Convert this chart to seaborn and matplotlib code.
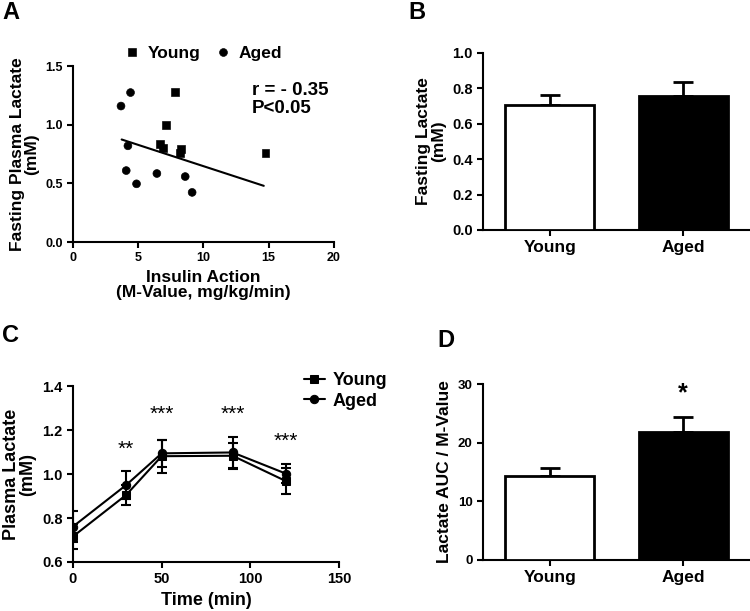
import numpy as np
import pandas as pd
import seaborn as sns
import matplotlib.pyplot as plt

# panel A: fasting lactate vs insulin action
young_m = [7.82, 7.11, 6.66, 6.93, 8.30, 8.20, 14.75]
young_lac = [1.280, 0.995, 0.834, 0.798, 0.792, 0.758, 0.756]
aged_m = [3.68, 4.41, 4.21, 4.08, 4.87, 6.43, 8.60, 9.13]
aged_lac = [1.159, 1.274, 0.820, 0.609, 0.496, 0.584, 0.558, 0.423]
fit_x = [3.73, 14.62]
fit_y = [0.874, 0.479]

# panel B: fasting lactate
groups = ["Young", "Aged"]
fasting_mean = [0.708, 0.755]
fasting_sem = [0.056, 0.081]

# panel C: plasma lactate over time
time = [0, 30, 50, 90, 120]
young_time = [0.716, 0.905, 1.081, 1.083, 0.968]
young_err = [0.055, 0.045, 0.075, 0.060, 0.060]
aged_time = [0.761, 0.950, 1.094, 1.098, 1.002]
aged_err = [0.070, 0.063, 0.060, 0.070, 0.045]
star_t = [30, 50, 90, 120]
star_txt = ["**", "***", "***", "***"]
star_y = [1.113, 1.272, 1.272, 1.150]

# panel D: lactate AUC / M-value
auc_mean = [14.4, 21.9]
auc_sem = [1.25, 2.4]

sns.set_style("ticks")
plt.rcParams['font.family'] = ['Liberation Sans', 'DejaVu Sans']
plt.rcParams['font.weight'] = 'bold'
plt.rcParams['axes.labelweight'] = 'bold'
plt.rcParams['axes.linewidth'] = 1.5
for k in ['text.color', 'axes.labelcolor', 'xtick.color', 'ytick.color', 'axes.edgecolor']:
    plt.rcParams[k] = 'black'

fig = plt.figure(figsize=(7.5, 6.11), dpi=100)
axA = fig.add_axes([0.0973, 0.6039, 0.348, 0.288])
axB = fig.add_axes([0.644, 0.6236, 0.356, 0.2897])
axC = fig.add_axes([0.0973, 0.0802, 0.3547, 0.288])
axD = fig.add_axes([0.644, 0.0835, 0.356, 0.288])

def style(ax, size):
    sns.despine(ax=ax)
    ax.tick_params(direction="out", length=4, width=1.5, labelsize=size)
    for lab in ax.get_xticklabels() + ax.get_yticklabels():
        lab.set_fontweight("bold")

# ---- A
dfA = pd.DataFrame({
    "m": young_m + aged_m,
    "lac": young_lac + aged_lac,
    "group": ["Young"] * len(young_m) + ["Aged"] * len(aged_m),
})
sns.scatterplot(data=dfA, x="m", y="lac", style="group",
                markers={"Young": "s", "Aged": "o"}, color="black",
                edgecolor="black", s=32, ax=axA)
axA.plot(fit_x, fit_y, color="black", lw=1.5)
axA.set_xlim(0, 20)
axA.set_ylim(0, 1.5)
axA.set_xticks([0, 5, 10, 15, 20])
axA.set_yticks([0, 0.5, 1.0, 1.5])
axA.set_yticklabels(["0.0", "0.5", "1.0", "1.5"])
axA.set_xlabel("Insulin Action\n(M-Value, mg/kg/min)", fontsize=12.5, linespacing=1.0)
axA.set_ylabel("Fasting Plasma Lactate\n(mM)", fontsize=12.5, linespacing=1.0)
axA.text(0.685, 0.81, "r = - 0.35\nP<0.05", transform=axA.transAxes,
         fontsize=13.5, fontweight="bold", ha="left", va="center", linespacing=1.1)
sns.move_legend(axA, "lower center", bbox_to_anchor=(0.5, 0.98), ncol=2,
                frameon=False, title=None, fontsize=12.5, handlelength=0.8,
                handletextpad=0.5, columnspacing=0.9, borderaxespad=0.1)
style(axA, 9)

# ---- bar helper
def bars(ax, means, sems):
    sns.barplot(x=groups, y=means, hue=groups, palette=["white", "black"],
                edgecolor="black", linewidth=2, width=0.67, legend=False,
                ax=ax, zorder=3)
    ax.errorbar(range(2), means, yerr=[[0, 0], sems], fmt="none",
                ecolor="black", elinewidth=2, capsize=7, capthick=2, zorder=2)
    ax.set_xlim(-0.5, 1.5)

# ---- B
bars(axB, fasting_mean, fasting_sem)
axB.set_ylim(0, 1.0)
axB.set_yticks(np.arange(0, 1.01, 0.2))
axB.set_yticklabels(["0.0", "0.2", "0.4", "0.6", "0.8", "1.0"])
axB.set_ylabel("Fasting Lactate\n(mM)", fontsize=12.5, linespacing=1.0)
style(axB, 10.5)
axB.tick_params(axis="x", labelsize=12.5)

# ---- C
dfC = pd.DataFrame({
    "time": time + time,
    "lac": young_time + aged_time,
    "group": ["Young"] * len(time) + ["Aged"] * len(time),
})
sns.lineplot(data=dfC, x="time", y="lac", style="group",
             markers={"Young": "s", "Aged": "o"}, dashes=False, color="black",
             markersize=6, markeredgecolor="black", linewidth=1.5, ax=axC)
axC.errorbar(time, young_time, yerr=young_err, fmt="none", ecolor="black",
             elinewidth=1.5, capsize=3.5, capthick=1.5)
axC.errorbar(time, aged_time, yerr=aged_err, fmt="none", ecolor="black",
             elinewidth=1.5, capsize=3.5, capthick=1.5)
for t, s, y in zip(star_t, star_txt, star_y):
    axC.text(t, y, s, ha="center", va="center", fontsize=15, fontweight="normal")
axC.set_xlim(0, 150)
axC.set_ylim(0.6, 1.4)
axC.set_xticks([0, 50, 100, 150])
axC.set_yticks([0.6, 0.8, 1.0, 1.2, 1.4])
axC.set_yticklabels(["0.6", "0.8", "1.0", "1.2", "1.4"])
axC.set_xlabel("Time (min)", fontsize=13)
axC.set_ylabel("Plasma Lactate\n(mM)", fontsize=13, linespacing=1.0)
sns.move_legend(axC, "upper left", bbox_to_anchor=(0.84, 1.12), frameon=False,
                title=None, fontsize=13, handlelength=1.2, handletextpad=0.4,
                labelspacing=0.2, borderaxespad=0)
style(axC, 10.5)

# ---- D
bars(axD, auc_mean, auc_sem)
axD.set_ylim(0, 30)
axD.set_yticks([0, 10, 20, 30])
axD.set_ylabel("Lactate AUC / M-Value", fontsize=12.5)
axD.text(1, 28.4, "*", ha="center", va="center", fontsize=18, fontweight="bold")
style(axD, 9.5)
axD.tick_params(axis="x", labelsize=12.5)

for lbl, x, y in [("A", 0.003, 0.998), ("B", 0.545, 0.998), ("C", 0.003, 0.47), ("D", 0.583, 0.462)]:
    fig.text(x, y, lbl, fontsize=17, fontweight="bold", ha="left", va="top")

fig.savefig("out.png", dpi=100)
